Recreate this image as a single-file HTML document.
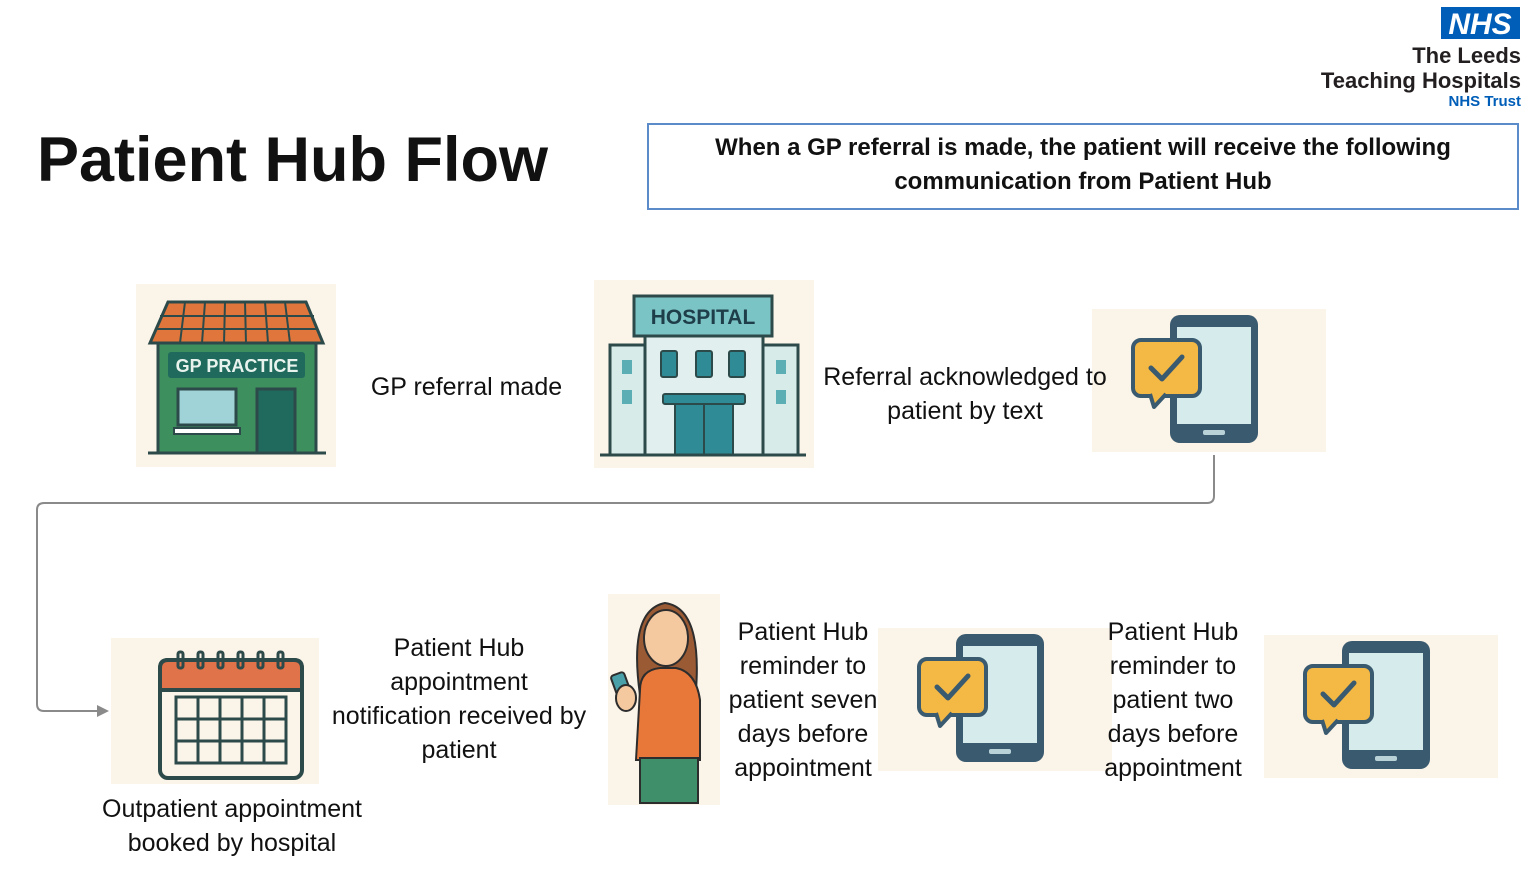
<!DOCTYPE html>
<html><head><meta charset="utf-8"><style>
html,body{margin:0;padding:0;background:#fff}
body{width:1528px;height:873px;position:relative;overflow:hidden;font-family:"Liberation Sans",sans-serif}
.t{position:absolute;color:#111;text-align:center;font-size:25px;line-height:34px}
</style></head><body>
<svg width="1528" height="873" style="position:absolute;left:0;top:0">
<defs>
<g id="phone">
<rect x="0" y="0" width="234" height="143" fill="#fbf4e8"/>
<rect x="78" y="6" width="88" height="128" rx="10" fill="#3a5a70"/>
<rect x="85" y="18" width="74" height="97" fill="#d6ecec"/>
<rect x="111" y="121" width="22" height="5" rx="2" fill="#b9d2d8"/>
<rect x="41" y="31" width="67" height="56" rx="8" fill="#f4b844" stroke="#3a5a70" stroke-width="4"/>
<path d="M58 85 L62 98 L74 85" fill="#f4b844" stroke="#3a5a70" stroke-width="4" stroke-linejoin="round"/>
<path d="M59 59 L70 70 L90 48" fill="none" stroke="#3a5a70" stroke-width="5" stroke-linecap="round" stroke-linejoin="round"/>
</g>
</defs>
<rect x="136" y="284" width="200" height="183" fill="#fbf4e8"/>
<polygon points="168,302 306,302 323,343 150,343" fill="#e0763c" stroke="#2d4a4a" stroke-width="3"/>
<g stroke="#2d4a4a" stroke-width="2"><line x1="160" y1="316" x2="314" y2="316"/><line x1="156" y1="329" x2="318" y2="329"/>
<line x1="185" y1="302" x2="180" y2="343"/><line x1="205" y1="302" x2="202" y2="343"/><line x1="225" y1="302" x2="224" y2="343"/><line x1="245" y1="302" x2="246" y2="343"/><line x1="265" y1="302" x2="268" y2="343"/><line x1="285" y1="302" x2="290" y2="343"/></g>
<rect x="158" y="343" width="158" height="110" fill="#3e8f5e" stroke="#2d4a4a" stroke-width="3"/>
<rect x="168" y="352" width="137" height="26" rx="3" fill="#1f6a5c"/>
<text x="237" y="372" font-size="18" font-weight="bold" fill="#e8f3ee" text-anchor="middle" font-family="Liberation Sans">GP PRACTICE</text>
<rect x="178" y="389" width="58" height="36" fill="#9fd3d7" stroke="#2d4a4a" stroke-width="3"/>
<rect x="174" y="428" width="66" height="6" fill="#fff" stroke="#2d4a4a" stroke-width="2"/>
<rect x="257" y="389" width="38" height="64" fill="#1f6a5c" stroke="#2d4a4a" stroke-width="3"/>
<line x1="148" y1="453" x2="326" y2="453" stroke="#2d4a4a" stroke-width="3"/>
<rect x="594" y="280" width="220" height="188" fill="#fbf4e8"/>
<rect x="610" y="345" width="40" height="110" fill="#d7ebe9" stroke="#2d4a4a" stroke-width="3"/>
<rect x="758" y="345" width="40" height="110" fill="#d7ebe9" stroke="#2d4a4a" stroke-width="3"/>
<rect x="645" y="330" width="118" height="125" fill="#e1f0ee" stroke="#2d4a4a" stroke-width="3"/>
<rect x="634" y="296" width="138" height="40" fill="#7bc4c6" stroke="#2d4a4a" stroke-width="3"/>
<text x="703" y="324" font-size="21" font-weight="bold" fill="#1e3e4a" text-anchor="middle" font-family="Liberation Sans">HOSPITAL</text>
<g fill="#2f8c96" stroke="#2d4a4a" stroke-width="2"><rect x="661" y="351" width="16" height="26" rx="2"/><rect x="696" y="351" width="16" height="26" rx="2"/><rect x="729" y="351" width="16" height="26" rx="2"/>
<rect x="663" y="394" width="82" height="10" rx="2"/><rect x="675" y="404" width="58" height="51"/><line x1="704" y1="404" x2="704" y2="455"/></g>
<g fill="#5aaeb4"><rect x="622" y="360" width="10" height="14"/><rect x="622" y="390" width="10" height="14"/><rect x="776" y="360" width="10" height="14"/><rect x="776" y="390" width="10" height="14"/></g>
<line x1="600" y1="455" x2="806" y2="455" stroke="#2d4a4a" stroke-width="3"/>
<use href="#phone" x="1092" y="309"/>
<use href="#phone" x="878" y="628"/>
<use href="#phone" x="1264" y="635"/>
<path d="M1214 455 V496 Q1214 503 1207 503 H44 Q37 503 37 510 V704 Q37 711 44 711 H100" fill="none" stroke="#8a8a8a" stroke-width="2"/>
<polygon points="109,711 97,705 97,717" fill="#8a8a8a"/>
<rect x="111" y="638" width="208" height="146" fill="#fbf4e8"/>
<rect x="160" y="660" width="142" height="118" rx="8" fill="#fbf4e8" stroke="#2d4a4a" stroke-width="4"/>
<path d="M160 690 V668 Q160 660 168 660 H294 Q302 660 302 668 V690 Z" fill="#e0734a" stroke="#2d4a4a" stroke-width="4"/>
<g fill="none" stroke="#2d4a4a" stroke-width="3"><rect x="176" y="697" width="110" height="66"/>
<line x1="198" y1="697" x2="198" y2="763"/><line x1="220" y1="697" x2="220" y2="763"/><line x1="242" y1="697" x2="242" y2="763"/><line x1="264" y1="697" x2="264" y2="763"/>
<line x1="176" y1="719" x2="286" y2="719"/><line x1="176" y1="741" x2="286" y2="741"/>
<rect x="178" y="652" width="5" height="16" rx="2"/><rect x="198" y="652" width="5" height="16" rx="2"/><rect x="218" y="652" width="5" height="16" rx="2"/><rect x="238" y="652" width="5" height="16" rx="2"/><rect x="258" y="652" width="5" height="16" rx="2"/><rect x="278" y="652" width="5" height="16" rx="2"/></g>
<rect x="608" y="594" width="112" height="211" fill="#fbf4e8"/>
<path d="M640 695 Q628 610 665 603 Q702 608 696 690 Z" fill="#9a5a34" stroke="#2d2d2d" stroke-width="2"/>
<ellipse cx="666" cy="638" rx="22" ry="28" fill="#f4c9a0" stroke="#2d2d2d" stroke-width="2"/>
<path d="M640 690 Q640 670 660 668 H676 Q696 672 700 700 L700 760 H636 Z" fill="#e8783a" stroke="#2d2d2d" stroke-width="2"/>
<rect x="640" y="758" width="58" height="45" fill="#3e8f6a" stroke="#2d2d2d" stroke-width="2"/>
<rect x="615" y="673" width="14" height="30" rx="3" fill="#4aa0a8" stroke="#2d2d2d" stroke-width="2" transform="rotate(-20 622 688)"/>
<ellipse cx="626" cy="698" rx="10" ry="13" fill="#f4c9a0" stroke="#2d2d2d" stroke-width="2"/>
<rect x="1441" y="7" width="79" height="32" fill="#005eb8"/>
<text x="1480" y="34" font-size="30" font-weight="bold" font-style="italic" fill="#fff" text-anchor="middle" font-family="Liberation Sans">NHS</text>
</svg>
<div style="position:absolute;right:7px;top:43px;text-align:right;font-weight:bold;color:#231f20;font-size:22px;line-height:25px">The Leeds<br>Teaching Hospitals</div>
<div style="position:absolute;right:7px;top:93px;font-weight:bold;color:#005eb8;font-size:15px">NHS Trust</div>
<div style="position:absolute;left:37px;top:124px;font-size:63px;font-weight:bold;color:#111">Patient Hub Flow</div>
<div style="position:absolute;left:647px;top:123px;width:868px;height:83px;border:2px solid #5b8cc9;box-sizing:content-box"></div>
<div class="t" style="left:649px;top:131px;width:868px;font-weight:bold;font-size:24px">When a GP referral is made, the patient will receive the following<br>communication from Patient Hub</div>
<div class="t" style="left:350px;top:370px;width:233px">GP referral made</div>
<div class="t" style="left:800px;top:360px;width:330px">Referral acknowledged to<br>patient by text</div>
<div class="t" style="left:313px;top:631px;width:292px">Patient Hub<br>appointment<br>notification received by<br>patient</div>
<div class="t" style="left:717px;top:615px;width:172px">Patient Hub<br>reminder to<br>patient seven<br>days before<br>appointment</div>
<div class="t" style="left:1087px;top:615px;width:172px">Patient Hub<br>reminder to<br>patient two<br>days before<br>appointment</div>
<div class="t" style="left:62px;top:792px;width:340px">Outpatient appointment<br>booked by hospital</div>
</body></html>
